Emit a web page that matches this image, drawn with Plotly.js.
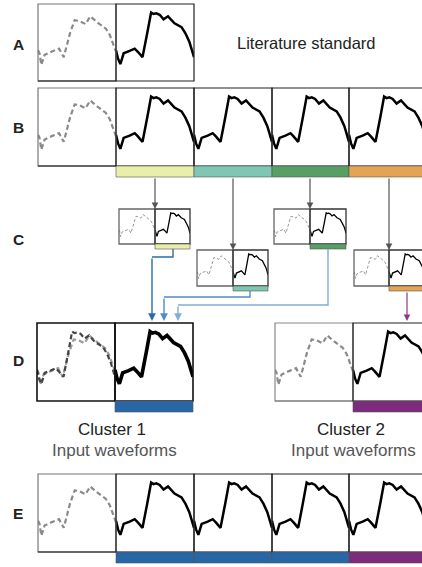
<!DOCTYPE html>
<html><head><meta charset="utf-8">
<script src="https://cdn.plot.ly/plotly-3.0.1.min.js"></script>
<style>html,body{margin:0;padding:0;background:#fff}#chart{width:422px;height:567px}</style>
</head><body><div id="chart"></div>
<script>
// ---- data: one recorded cycle (phase 0..1, normalised amplitude 0..1) ----
const phaseCur=[0,0.026,0.056,0.098,0.175,0.24,0.28,0.34,0.40,0.45,0.48,0.517,0.56,0.61,0.667,0.71,0.75,0.84,0.89,0.94,0.97,1];
const ampCur  =[0.40,0.29,0.22,0.36,0.39,0.42,0.38,0.31,0.62,0.89,0.87,0.88,0.86,0.80,0.84,0.79,0.75,0.70,0.62,0.51,0.42,0.31];
// preceding cycle (dashed)
const phasePrev=[0,0.02,0.043,0.085,0.17,0.27,0.33,0.41,0.47,0.53,0.61,0.67,0.75,0.87,0.92,0.985,1];
const ampPrev  =[0.40,0.36,0.21,0.34,0.38,0.42,0.31,0.62,0.79,0.78,0.74,0.84,0.77,0.68,0.60,0.40,0.38];
// labels
const rowLabels=['A','B','C','D','E'];
const titleText='Literature standard';
const clusterNames=['Cluster 1','Cluster 2'];
const clusterSub='Input waveforms';

const W=422,H=567;
const px=x=>x/W, py=y=>1-y/H;
const FONT='Liberation Sans, Arial, Helvetica, sans-serif';
const traces=[];
const layout={width:W,height:H,margin:{l:0,r:0,t:0,b:0},paper_bgcolor:'#fff',plot_bgcolor:'rgba(0,0,0,0)',
  showlegend:false,shapes:[],annotations:[],hovermode:false};
let nAx=0;
function cell(x0,x1,y0,y1,series){
  nAx++;
  const id=nAx===1?'':String(nAx);
  const vis=Math.min(x1,W);
  layout['xaxis'+id]={domain:[px(x0),px(vis)],range:[0,(vis-x0)/(x1-x0)],visible:false,fixedrange:true,anchor:'y'+id};
  layout['yaxis'+id]={domain:[py(y1),py(y0)],range:[0,1],visible:false,fixedrange:true,anchor:'x'+id};
  series.forEach(s=>{
    const cur=s.which==='cur';
    traces.push({type:'scatter',mode:'lines',x:cur?phaseCur:phasePrev,y:cur?ampCur:ampPrev,
      xaxis:'x'+id,yaxis:'y'+id,line:{color:s.color,width:s.width,dash:s.dash||'solid'},hoverinfo:'skip'});
  });
}
function rect(x0,x1,y0,y1,line,lw,fill){
  layout.shapes.push({type:'rect',xref:'paper',yref:'paper',x0:px(x0),x1:px(x1),y0:py(y1),y1:py(y0),
    line:{color:line,width:lw},fillcolor:fill||'rgba(0,0,0,0)'});
}
function hline(x0,x1,y,color,lw){
  layout.shapes.push({type:'line',xref:'paper',yref:'paper',x0:px(x0),x1:px(x1),y0:py(y),y1:py(y),line:{color:color,width:lw}});
}
function path(pts,color,lw){
  let d='M'+pts.map(p=>px(p[0])+','+py(p[1])).join(' L');
  layout.shapes.push({type:'path',xref:'paper',yref:'paper',path:d,line:{color:color,width:lw}});
}
function arrow(x,yTail,yHead,color,lw){
  layout.annotations.push({xref:'paper',yref:'paper',x:px(x),y:py(yHead),ax:0,ay:-(yHead-yTail),
    axref:'pixel',ayref:'pixel',text:'',showarrow:true,arrowhead:2,arrowsize:1.1,arrowwidth:lw,arrowcolor:color,standoff:0});
}
function text(t,x,y,size,color,bold){
  layout.annotations.push({xref:'paper',yref:'paper',x:px(x),y:py(y),xanchor:'center',yanchor:'middle',showarrow:false,
    text:bold?'<b>'+t+'</b>':t,font:{family:FONT,size:size,color:color}});
}

const DASH='5px,3px';
const bigPrev=[{which:'prev',color:'#8a8a8a',width:2.2,dash:DASH}];
const bigCur=[{which:'cur',color:'#000',width:2.5}];
const cols=[38,116,194,272,349,427];

// ---- Row A ----
cell(38,116,4,81,bigPrev); cell(116,194,4,81,bigCur);
rect(38,116,4,81,'#777',1.2); hline(38,116,81,'#111',1.2); rect(116,194,4,81,'#222',1.2);

// ---- Rows B and E ----
function bigRow(y0,y1,barColors){
  cell(cols[0],cols[1],y0,y1,bigPrev);
  for(let i=1;i<5;i++) cell(cols[i],cols[i+1],y0,y1,bigCur);
  rect(cols[0],cols[1],y0,y1,'#777',1.2); hline(cols[0],cols[1],y1,'#111',1.2);
  for(let i=1;i<5;i++){
    rect(cols[i],cols[i+1],y0,y1,'#222',1.2);
    rect(cols[i],cols[i+1],y1,y1+11,'#555',0.6,barColors[i-1]);
  }
}
bigRow(88,166,['#e9eeab','#7fc6b3','#589f65','#e5a455']);
bigRow(474,552,['#2767a5','#2767a5','#2767a5','#7d2b7b']);

// ---- Row C: small boxes ----
const smallPrev=[{which:'prev',color:'#999',width:1,dash:'3px,2px'}];
const smallCur=[{which:'cur',color:'#000',width:1.3}];
function smallBox(xl,xm,xr,y0,y1,bar){
  cell(xl,xm,y0,y1,smallPrev); cell(xm,xr,y0,y1,smallCur);
  rect(xl,xm,y0,y1,'#666',1.3); rect(xm,xr,y0,y1,'#333',1.3);
  rect(xm,xr,y1,y1+5,'#555',0.6,bar);
}
smallBox(119,155,190,209,244,'#e9eeab');
smallBox(197,233,268,250,286,'#7fc6b3');
smallBox(274,310,346,209,244,'#589f65');
smallBox(354,389,425,250,286,'#e5a455');

// arrows from B bars to C boxes
arrow(155,177,209,'#555',1.2);
arrow(233,177,250,'#555',1.2);
arrow(310,177,209,'#555',1.2);
arrow(389,177,250,'#555',1.2);

// connectors to row D
path([[173,249],[173,257],[152,257]],'#2a6cad',1.4); arrow(152,257,321,'#2a6cad',1.4);
path([[250,291],[250,297],[164,297]],'#4f8cc4',1.4); arrow(164,297,321,'#4f8cc4',1.4);
path([[328,249],[328,305],[178,305]],'#80aed8',1.4); arrow(178,305,321,'#80aed8',1.4);
arrow(407,291,321,'#8b3a8b',1.2);

// ---- Row D ----
cell(37,115,323,401,[{which:'prev',color:'#999',width:2.2,dash:DASH},{which:'cur',color:'#444',width:2.2,dash:DASH}]);
cell(115,193,323,401,[{which:'cur',color:'#000',width:3.6}]);
rect(37,115,323,401,'#111',1.6); rect(115,193,323,401,'#111',1.6);
rect(115,193,401,412,'#555',0.6,'#2767a5');
cell(275,353,323,401,bigPrev); cell(353,431,323,401,bigCur);
rect(275,353,323,401,'#888',1.2); hline(275,353,401,'#777',1.2); rect(353,431,323,401,'#222',1.2);
rect(353,431,401,412,'#555',0.6,'#7d2b7b');

// ---- text ----
text(titleText,306,43,16.5,'#222',false);
const labY=[44,127,239,360,513];
rowLabels.forEach((l,i)=>text(l,18,labY[i],15.5,'#222',true));
text(clusterNames[0],112,429,17,'#222',false);
text(clusterSub,115,450,17,'#555',false);
text(clusterNames[1],351,429,17,'#222',false);
text(clusterSub,353,450,17,'#555',false);

Plotly.newPlot('chart',traces,layout,{staticPlot:true,displayModeBar:false});
</script></body></html>
